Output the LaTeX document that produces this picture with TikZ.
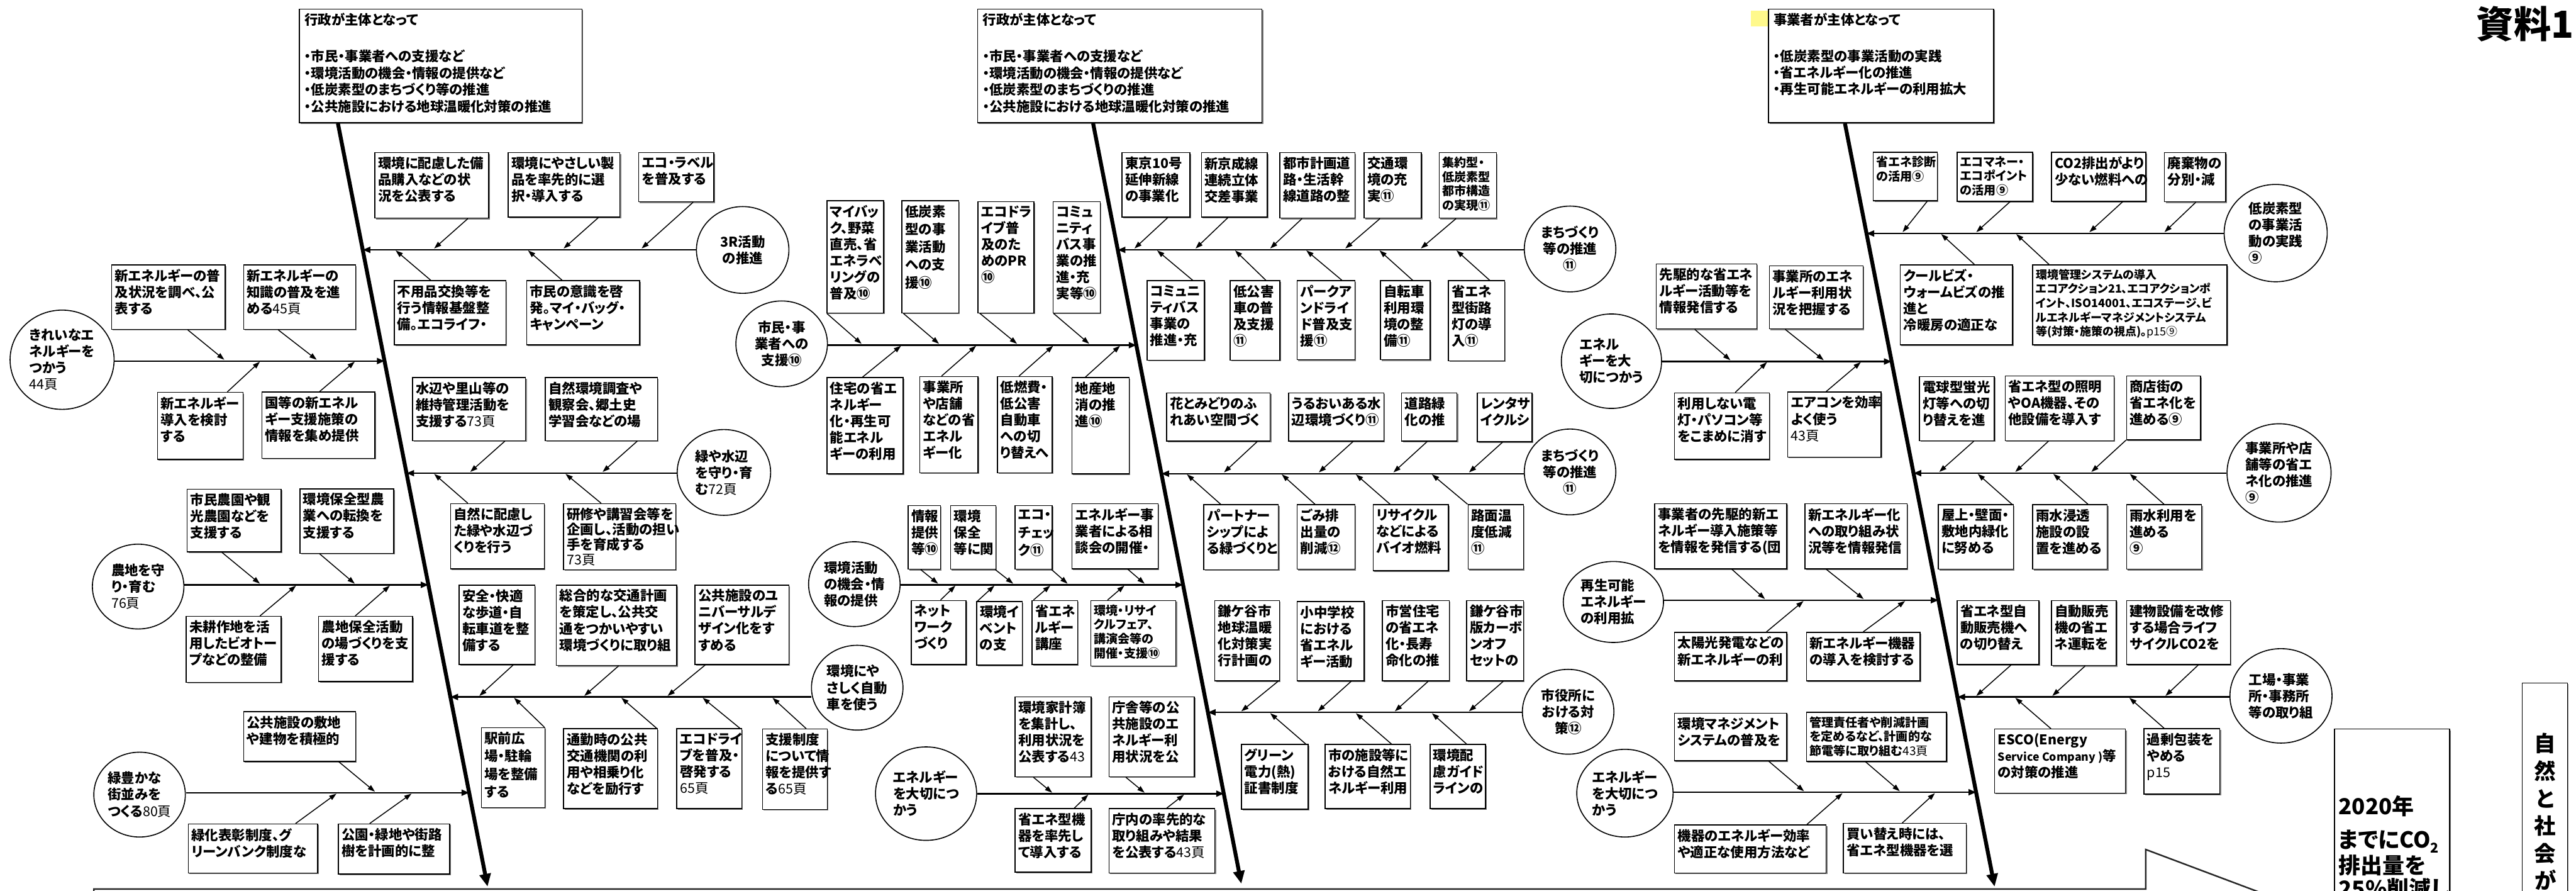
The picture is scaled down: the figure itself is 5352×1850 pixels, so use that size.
\documentclass[tikz,border=0pt]{standalone}
\usepackage{fontspec}
\setmainfont{Noto Sans CJK JP}[RawFeature=+palt]
\usetikzlibrary{arrows.meta,shapes.geometric,fit,calc,shadows}
\newcommand\FNorm{\fontsize{7.97pt}{9.67pt}\selectfont\bfseries}
\newcommand\FTight{\fontsize{7.97pt}{8.9pt}\selectfont\bfseries}
\newcommand\FLoose{\fontsize{7.97pt}{10.5pt}\selectfont\bfseries}
\newcommand\FSmall{\fontsize{7.1pt}{8.4pt}\selectfont\bfseries}
\newcommand\FTiny{\fontsize{6.7pt}{8.4pt}\selectfont\bfseries}
\newcommand\FHead{\fontsize{7.97pt}{9.87pt}\selectfont\bfseries}
\newcommand\Pg[1]{{\mdseries #1}}
\tikzset{
  boxsty/.style={draw, line width=0.55pt, inner sep=0pt, fill=white,
    drop shadow={shadow xshift=0.7pt, shadow yshift=-0.7pt, fill=black!50, opacity=1}},
  txt/.style={inner sep=0pt, align=left, font=\FNorm},
  ell/.style={draw, ellipse, line width=0.6pt, inner sep=0pt, font=\FNorm},
  arr/.style={line width=0.55pt, -{Triangle[length=4.3pt,width=2.9pt]}},
  branch/.style={line width=0.9pt, -{Triangle[length=4.5pt,width=3.6pt]}},
  bone/.style={line width=2.3pt, -{Triangle[length=7.5pt,width=6.5pt]}}
}
\newcommand\Bx[7][]{%
  \node[boxsty, fit={(#3,#4) (#5,#6)}] (#2) {};
  \node[txt, anchor=north west, #1] (#2t) at ([shift={(7,9)}]#2.north west) {#7};}
\newcommand\Dn[4]{\draw[arr] ([shift={(#2,0)}]#1.south west) -- (#3,#4);}
\newcommand\Up[4]{\draw[arr] ([shift={(#2,0)}]#1.north west) -- (#3,#4);}
\newcommand\El[7][left]{\node[ell, align=#1, minimum width=#5cm, minimum height=#6cm] (#2) at (#3,#4) {#7};}
\newcommand\BrL[4]{\coordinate (#1T) at ($(#2)!#4!(#3)$); \draw[branch] (#1.east |- #1T) -- (#1T);}
\newcommand\BrR[4]{\coordinate (#1T) at ($(#2)!#4!(#3)$); \draw[branch] (#1.west |- #1T) -- (#1T);}
\begin{document}
\begin{tikzpicture}[x=0.01cm, y=-0.01cm]
\useasboundingbox (0,0) rectangle (5352,1850);
\fill[white] (0,0) rectangle (5352,1850);
\clip (0,0) rectangle (5352,1850);

% ---------- header boxes ----------
\node[boxsty, fit={(622,19) (1209,255)}] (A1) {};
\node[txt, anchor=west] (A1h) at (632,41) {行政が主体となって};
\node[txt, anchor=north west, font=\FHead] (A1b) at (632,103) {・市民・事業者への支援など\\・環境活動の機会・情報の提供など\\・低炭素型のまちづくり等の推進\\・公共施設における地球温暖化対策の推進};
\node[boxsty, fit={(2031,19) (2622,255)}] (A2) {};
\node[txt, anchor=west] (A2h) at (2041,41) {行政が主体となって};
\node[txt, anchor=north west, font=\FHead] (A2b) at (2041,103) {・市民・事業者への支援など\\・環境活動の機会・情報の提供など\\・低炭素型のまちづくりの推進\\・公共施設における地球温暖化対策の推進};
\node[fill=yellow!45, inner sep=0pt, fit={(3637,22) (3674,55)}] (Y3) {};
\node[boxsty, fit={(3674,19) (4142,255)}] (A3) {};
\node[txt, anchor=west] (A3h) at (3684,41) {事業者が主体となって};
\node[txt, anchor=north west] (A3b) at (3684,103) {・低炭素型の事業活動の実践\\・省エネルギー化の推進\\・再生可能エネルギーの利用拡大};

\node[anchor=north east, inner sep=0pt, font=\fontsize{22pt}{22pt}\selectfont\bfseries] (Title) at (5348,12) {資料1};

% ---------- bones ----------
\coordinate (B1a) at ([shift={(81,0)}]A1.south west);
\coordinate (B1b) at (1013,1841);
\coordinate (B2a) at ([shift={(241,0)}]A2.south west);
\coordinate (B2b) at (2579,1835);
\coordinate (B3a) at ([shift={(160,0)}]A3.south west);
\coordinate (B3b) at (4144,1841);

% ---------- ellipses ----------
\El[center]{E1}{1543}{519}{1.92}{1.80}{3R活動\\の推進}
\El{E2}{129}{747}{2.16}{2.06}{きれいなエ\\ネルギーを\\つかう\\\Pg{44頁}}
\El{E3}{1504}{981}{1.94}{1.78}{緑や水辺\\を守り・育\\む\Pg{72頁}}
\El{E4}{287}{1218}{1.90}{1.76}{農地を守\\り・育む\\\Pg{76頁}}
\El{E5}{1781}{1428}{1.90}{1.76}{環境にや\\さしく自動\\車を使う}
\El{E6}{290}{1650}{1.90}{1.76}{緑豊かな\\街並みを\\つくる\Pg{80頁}}
\El[center]{E7}{1624}{714}{1.90}{1.78}{市民・事\\業者への\\支援⑩}
\El{E8}{1775}{1213}{1.90}{1.76}{環境活動\\の機会・情\\報の提供}
\El{E9}{1924}{1648}{2.10}{1.94}{エネルギー\\を大切につ\\かう}
\El[center]{E10}{3262}{517}{1.90}{1.78}{まちづくり\\等の推進\\⑪}
\El[center]{E11}{3262}{980}{1.90}{1.78}{まちづくり\\等の推進\\⑪}
\El[center]{E12}{3258}{1478}{1.90}{1.76}{市役所に\\おける対\\策⑫}
\El{E13}{4728}{484}{2.14}{2.02}{低炭素型\\の事業活\\動の実践\\⑨}
\El{E14}{3348}{750}{2.08}{1.96}{エネル\\ギーを大\\切につかう}
\El{E15}{4735}{982}{2.16}{2.04}{事業所や店\\舗等の省エ\\ネ化の推進\\⑨}
\El{E16}{3352}{1250}{2.08}{1.68}{再生可能\\エネルギー\\の利用拡}
\El{E17}{4739}{1445}{2.12}{1.96}{工場・事業\\所・事務所\\等の取り組}
\El{E18}{3376}{1647}{2.00}{1.82}{エネルギー\\を大切につ\\かう}

% ---------- group 1 boxes ----------
\Bx{b1}{779}{317}{1015}{453}{環境に配慮した備\\品購入などの状\\況を公表する}
\Bx{b2}{1056}{317}{1288}{451}{環境にやさしい製\\品を率先的に選\\択・導入する}
\Bx{b3}{1327}{317}{1483}{419}{エコ・ラベル\\を普及する}
\Bx{b4}{819}{583}{1051}{716}{不用品交換等を\\行う情報基盤整\\備。エコライフ・}
\Bx{b5}{1094}{583}{1329}{716}{市民の意識を啓\\発。マイ・バッグ・\\キャンペーン}
\Bx{b6}{232}{550}{468}{684}{新エネルギーの普\\及状況を調べ、公\\表する}
\Bx{b7}{506}{550}{739}{684}{新エネルギーの\\知識の普及を進\\める\Pg{45頁}}
\Bx{b8}{327}{815}{505}{954}{新エネルギー\\導入を検討\\する}
\Bx{b9}{544}{814}{779}{952}{国等の新エネル\\ギー支援施策の\\情報を集め提供}
\Bx{b10}{857}{784}{1092}{915}{水辺や里山等の\\維持管理活動を\\支援する\Pg{73頁}}
\Bx{b11}{1133}{784}{1366}{915}{自然環境調査や\\観察会、郷土史\\学習会などの場}
\Bx{b12}{936}{1046}{1131}{1181}{自然に配慮し\\た緑や水辺づ\\くりを行う}
\Bx[font=\FTight]{b13}{1171}{1046}{1404}{1183}{研修や講習会等を\\企画し、活動の担い\\手を育成する\\\Pg{73頁}}
\Bx{b14}{389}{1016}{584}{1146}{市民農園や観\\光農園などを\\支援する}
\Bx{b15}{623}{1015}{818}{1149}{環境保全型農\\業への転換を\\支援する}
\Bx{b16}{387}{1280}{584}{1417}{未耕作地を活\\用したビオトー\\プなどの整備}
\Bx{b17}{662}{1280}{857}{1415}{農地保全活動\\の場づくりを支\\援する}
\Bx{b18}{506}{1478}{739}{1581}{公共施設の敷地\\や建物を積極的}
\Bx{b19}{391}{1711}{660}{1813}{緑化表彰制度、グ\\リーンバンク制度な}
\Bx{b20}{703}{1711}{934}{1815}{公園・緑地や街路\\樹を計画的に整}
\Bx{b21}{954}{1215}{1111}{1380}{安全・快適\\な歩道・自\\転車道を整\\備する}
\Bx{b22}{1156}{1215}{1406}{1382}{総合的な交通計画\\を策定し、公共交\\通をつかいやすい\\環境づくりに取り組}
\Bx{b23}{1444}{1215}{1639}{1380}{公共施設のユ\\ニバーサルデ\\ザイン化をす\\すめる}
\Bx[font=\FLoose]{b24}{1000}{1511}{1132}{1677}{駅前広\\場・駐輪\\場を整備\\する}
\Bx{b25}{1171}{1513}{1366}{1679}{通勤時の公共\\交通機関の利\\用や相乗り化\\などを励行す}
\Bx{b26}{1406}{1513}{1541}{1679}{エコドライ\\ブを普及・\\啓発する\\\Pg{65頁}}
\Bx{b27}{1584}{1514}{1719}{1681}{支援制度\\について情\\報を提供す\\る\Pg{65頁}}

% ---------- group 2 boxes ----------
\Bx{c1}{1718}{417}{1836}{650}{マイバッ\\ク、野菜\\直売、省\\エネラベ\\リングの\\普及⑩}
\Bx[font=\FLoose]{c2}{1874}{417}{1992}{650}{低炭素\\型の事\\業活動\\への支\\援⑩}
\Bx{c3}{2032}{419}{2148}{650}{エコドラ\\イブ普\\及のた\\めのPR\\⑩}
\Bx{c4}{2188}{419}{2286}{650}{コミュ\\ニティ\\バス事\\業の推\\進・充\\実等⑩}
\Bx{c5}{1718}{784}{1876}{984}{住宅の省エ\\ネルギー\\化・再生可\\能エネル\\ギーの利用}
\Bx{c6}{1911}{782}{2032}{982}{事業所\\や店舗\\などの省\\エネル\\ギー化}
\Bx{c7}{2072}{782}{2186}{982}{低燃費・\\低公害\\自動車\\への切\\り替えへ}
\Bx{c8}{2227}{784}{2346}{984}{地産地\\消の推\\進⑩}
\Bx{c9}{1887}{1050}{1954}{1182}{情報\\提供\\等⑩}
\Bx{c10}{1975}{1050}{2069}{1182}{環境\\保全\\等に関}
\Bx[font=\FLoose]{c11}{2109}{1050}{2186}{1182}{エコ・\\チェッ\\ク⑪}
\Bx{c12}{2227}{1046}{2406}{1181}{エネルギー事\\業者による相\\談会の開催・}
\Bx{c13}{1893}{1247}{2007}{1380}{ネット\\ワーク\\づくり}
\Bx{c14}{2029}{1249}{2124}{1381}{環境イ\\ベント\\の支}
\Bx{c15}{2144}{1247}{2239}{1380}{省エネ\\ルギー\\講座}
\Bx[font=\FSmall]{c16}{2266}{1247}{2443}{1383}{環境・リサイ\\クルフェア、\\講演会等の\\開催・支援⑩}
\Bx{c17}{2109}{1447}{2267}{1613}{環境家計簿\\を集計し、\\利用状況を\\公表する\Pg{43}}
\Bx{c18}{2304}{1447}{2481}{1613}{庁舎等の公\\共施設のエ\\ネルギー利\\用状況を公}
\Bx{c19}{2109}{1679}{2267}{1811}{省エネ型機\\器を率先し\\て導入する}
\Bx{c20}{2304}{1679}{2524}{1813}{庁内の率先的な\\取り組みや結果\\を公表する\Pg{43頁}}
\Bx{c21}{2524}{1247}{2658}{1414}{鎌ケ谷市\\地球温暖\\化対策実\\行計画の}
\Bx{c22}{2695}{1249}{2834}{1414}{小中学校\\における\\省エネル\\ギー活動}
\Bx{c23}{2872}{1247}{3011}{1414}{市営住宅\\の省エネ\\化・長寿\\命化の推}
\Bx{c24}{3047}{1247}{3165}{1414}{鎌ケ谷市\\版カーボ\\ンオフ\\セットの}
\Bx{c25}{2579}{1546}{2718}{1680}{グリーン\\電力(熱)\\証書制度}
\Bx{c26}{2753}{1546}{2930}{1679}{市の施設等に\\おける自然エ\\ネルギー利用}
\Bx{c27}{2971}{1546}{3086}{1679}{環境配\\慮ガイド\\ラインの}
\Bx{c28}{2331}{317}{2472}{451}{東京10号\\延伸新線\\の事業化}
\Bx{c29}{2496}{317}{2633}{451}{新京成線\\連続立体\\交差事業}
\Bx{c30}{2659}{317}{2815}{453}{都市計画道\\路・生活幹\\線道路の整}
\Bx{c31}{2834}{317}{2953}{453}{交通環\\境の充\\実⑪}
\Bx[font=\FSmall]{c32}{2990}{317}{3109}{453}{集約型・\\低炭素型\\都市構造\\の実現⑪}
\Bx{c33}{2383}{583}{2502}{748}{コミュニ\\ティバス\\事業の\\推進・充}
\Bx{c34}{2556}{583}{2659}{748}{低公害\\車の普\\及支援\\⑪}
\Bx{c35}{2695}{583}{2815}{747}{パークア\\ンドライ\\ド普及支\\援⑪}
\Bx{c36}{2868}{583}{2971}{747}{自転車\\利用環\\境の整\\備⑪}
\Bx{c37}{3009}{583}{3126}{749}{省エネ\\型街路\\灯の導\\入⑪}
\Bx{c38}{2424}{816}{2639}{916}{花とみどりのふ\\れあい空間づく}
\Bx{c39}{2677}{816}{2875}{916}{うるおいある水\\辺環境づくり⑪}
\Bx{c40}{2912}{816}{3027}{916}{道路緑\\化の推}
\Bx{c41}{3069}{816}{3183}{917}{レンタサ\\イクルシ}
\Bx{c42}{2501}{1048}{2656}{1183}{パートナー\\シップによ\\る緑づくりと}
\Bx{c43}{2695}{1048}{2815}{1182}{ごみ排\\出量の\\削減⑫}
\Bx{c44}{2853}{1048}{3009}{1185}{リサイクル\\などによる\\バイオ燃料}
\Bx{c45}{3050}{1048}{3165}{1182}{路面温\\度低減\\⑪}

% ---------- group 3 boxes ----------
\Bx[font=\FSmall]{d1}{3892}{316}{4025}{417}{省エネ診断\\の活用⑨}
\Bx[font=\FSmall]{d2}{4066}{316}{4223}{418}{エコマネー・\\エコポイント\\の活用⑨}
\Bx{d3}{4262}{316}{4458}{418}{CO2排出がより\\少ない燃料への}
\Bx{d4}{4497}{317}{4624}{419}{廃棄物の\\分別・減}
\Bx{d5}{3948}{550}{4181}{716}{クールビズ・\\ウォームビズの推\\進と\\冷暖房の適正な}
\Bx[font=\FTiny]{d6}{4223}{550}{4627}{716}{環境管理システムの導入\\エコアクション21、エコアクションポ\\イント、ISO14001、エコステージ、ビ\\ルエネルギーマネジメントシステム\\等(対策・施策の視点)。\Pg{p15⑨}}
\Bx{d7}{3441}{548}{3650}{683}{先駆的な省エネ\\ルギー活動等を\\情報発信する}
\Bx{d8}{3676}{552}{3871}{683}{事業所のエネ\\ルギー利用状\\況を把握する}
\Bx{d9}{3479}{816}{3676}{954}{利用しない電\\灯・パソコン等\\をこまめに消す}
\Bx{d10}{3714}{814}{3908}{949}{エアコンを効率\\よく使う\\\Pg{43頁}}
\Bx{d11}{3988}{782}{4143}{915}{電球型蛍光\\灯等への切\\り替えを進}
\Bx{d12}{4166}{781}{4392}{915}{省エネ型の照明\\やOA機器、その\\他設備を導入す}
\Bx{d13}{4418}{781}{4572}{913}{商店街の\\省エネ化を\\進める⑨}
\Bx{d14}{4027}{1048}{4183}{1182}{屋上・壁面・\\敷地内緑化\\に努める}
\Bx{d15}{4223}{1048}{4378}{1182}{雨水浸透\\施設の設\\置を進める}
\Bx{d16}{4418}{1048}{4574}{1182}{雨水利用を\\進める\\⑨}
\Bx{d17}{3438}{1046}{3712}{1181}{事業者の先駆的新エ\\ネルギー導入施策等\\を情報を発信する(団}
\Bx{d18}{3750}{1046}{3962}{1181}{新エネルギー化\\への取り組み状\\況等を情報発信}
\Bx{d19}{3479}{1313}{3712}{1414}{太陽光発電などの\\新エネルギーの利}
\Bx{d20}{3753}{1313}{3989}{1414}{新エネルギー機器\\の導入を検討する}
\Bx{d21}{4066}{1247}{4236}{1380}{省エネ型自\\動販売機へ\\の切り替え}
\Bx{d22}{4262}{1247}{4397}{1382}{自動販売\\機の省エ\\ネ運転を}
\Bx{d23}{4418}{1247}{4634}{1380}{建物設備を改修\\する場合ライフ\\サイクルCO2を}
\Bx{d24}{4144}{1514}{4416}{1647}{ESCO(Energy\\{\fontsize{6.6pt}{9.67pt}\selectfont Service Company )}等\\の対策の推進}
\Bx{d25}{4454}{1513}{4612}{1649}{過剰包装を\\やめる\\\Pg{p15}}
\Bx{d26}{3479}{1481}{3712}{1580}{環境マネジメント\\システムの普及を}
\Bx[font=\FSmall]{d27}{3753}{1479}{4044}{1581}{管理責任者や削減計画\\を定めるなど、計画的な\\節電等に取り組む\Pg{43頁}}
\Bx{d28}{3479}{1713}{3794}{1813}{機器のエネルギー効率\\や適正な使用方法など}
\Bx{d29}{3830}{1710}{4085}{1813}{買い替え時には、\\省エネ型機器を選}

% ---------- right side boxes ----------
\node[boxsty, fit={(4850,1514) (5089,1900)}] (G1) {};
\node[txt, anchor=north west, font=\fontsize{13pt}{14pt}\selectfont\bfseries] (G1t) at (4858,1652) {2020年\\[5.5pt]までにCO\raisebox{-3pt}{\fontsize{8pt}{8pt}\selectfont 2}\\排出量を\\25\%削減し};
\node[boxsty, fit={(5240,1418) (5334,1900)}] (G2) {};
\node[inner sep=0pt, align=center, anchor=north, font=\fontsize{12.8pt}{16.2pt}\selectfont\bfseries] (G2t) at (5288,1522) {自\\然\\と\\社\\会\\が};

% block arrow outline at the bottom
\draw[line width=0.9pt, black!85] (195,1900) -- (195,1846) -- (4458,1846) -- (4458,1764) -- (4791,1889);

% ---------- bones and branches ----------
\draw[bone] (B1a) -- (B1b);
\draw[bone] (B2a) -- (B2b);
\draw[bone] (B3a) -- (B3b);

\BrR{E1}{B1a}{B1b}{0.1658}
\BrL{E2}{B1a}{B1b}{0.3115}
\BrR{E3}{B1a}{B1b}{0.4584}
\BrL{E4}{B1a}{B1b}{0.6047}
\BrR{E5}{B1a}{B1b}{0.7516}
\BrL{E6}{B1a}{B1b}{0.8770}
\BrL{E7}{B2a}{B2b}{0.2918}
\BrL{E8}{B2a}{B2b}{0.6070}
\BrL{E9}{B2a}{B2b}{0.8816}
\BrR{E10}{B2a}{B2b}{0.1665}
\BrR{E11}{B2a}{B2b}{0.4608}
\BrR{E12}{B2a}{B2b}{0.7747}
\BrR{E13}{B3a}{B3b}{0.1444}
\BrL{E14}{B3a}{B3b}{0.3121}
\BrR{E15}{B3a}{B3b}{0.4584}
\BrL{E16}{B3a}{B3b}{0.6248}
\BrR{E17}{B3a}{B3b}{0.7516}
\BrL{E18}{B3a}{B3b}{0.8764}

% ---------- small arrows ----------
\Dn{b1}{194}{902}{516}
\Dn{b2}{188}{1171}{516}
\Dn{b3}{114}{1333}{516}
\Up{b4}{77}{822}{520}
\Up{b5}{75}{1097}{520}
\Dn{b6}{159}{466}{747}
\Dn{b7}{73}{658}{747}
\Up{b8}{146}{540}{751}
\Up{b9}{121}{737}{751}
\Dn{b10}{193}{977}{980}
\Dn{b11}{192}{1252}{980}
\Up{b12}{37}{902}{984}
\Up{b13}{79}{1175}{984}
\Dn{b14}{73}{540}{1212}
\Dn{b15}{42}{737}{1212}
\Up{b16}{154}{615}{1216}
\Up{b17}{77}{810}{1216}
\Dn{b18}{199}{779}{1644}
\Up{b19}{224}{699}{1648}
\Up{b20}{66}{855}{1648}
\Dn{b21}{113}{996}{1445}
\Dn{b22}{130}{1214}{1445}
\Dn{b23}{22}{1387}{1445}
\Up{b24}{132}{1068}{1449}
\Up{b25}{194}{1291}{1449}
\Up{b26}{132}{1460}{1449}
\Up{b27}{92}{1605}{1449}

\Dn{c1}{1}{1790}{714}
\Dn{c2}{4}{1951}{714}
\Dn{c3}{5}{2113}{714}
\Dn{c4}{2}{2263}{714}
\Up{c5}{75}{1872}{718}
\Up{c6}{46}{2028}{718}
\Up{c7}{46}{2188}{718}
\Up{c8}{29}{2327}{718}
\Dn{c9}{27}{1949}{1212}
\Dn{c10}{94}{2105}{1212}
\Dn{c11}{77}{2218}{1212}
\Dn{c12}{117}{2378}{1212}
\Up{c13}{62}{1985}{1216}
\Up{c14}{3}{2066}{1216}
\Up{c15}{4}{2182}{1216}
\Up{c16}{36}{2336}{1216}
\Dn{c17}{39}{2186}{1646}
\Dn{c18}{36}{2378}{1646}
\Up{c19}{124}{2261}{1650}
\Up{c20}{121}{2460}{1650}
\Dn{c21}{132}{2579}{1477}
\Dn{c22}{113}{2738}{1477}
\Dn{c23}{96}{2898}{1477}
\Dn{c24}{77}{3052}{1477}
\Up{c25}{135}{2639}{1481}
\Up{c26}{139}{2817}{1481}
\Up{c27}{77}{2975}{1481}
\Dn{c28}{96}{2357}{516}
\Dn{c29}{56}{2484}{516}
\Dn{c30}{47}{2639}{516}
\Dn{c31}{34}{2795}{516}
\Dn{c32}{36}{2952}{516}
\Up{c33}{96}{2404}{520}
\Up{c34}{75}{2566}{520}
\Up{c35}{94}{2714}{520}
\Up{c36}{68}{2866}{520}
\Up{c37}{87}{3026}{520}
\Dn{c38}{189}{2543}{981}
\Dn{c39}{135}{2740}{981}
\Dn{c40}{54}{2895}{981}
\Dn{c41}{54}{3052}{981}
\Up{c42}{36}{2466}{985}
\Up{c43}{38}{2663}{985}
\Up{c44}{36}{2817}{985}
\Up{c45}{0}{2975}{985}

\Dn{d1}{113}{3953}{482}
\Dn{d2}{111}{4106}{482}
\Dn{d3}{149}{4341}{482}
\Dn{d4}{66}{4497}{482}
\Up{d5}{155}{4033}{486}
\Up{d6}{35}{4189}{486}
\Dn{d7}{81}{3595}{748}
\Dn{d8}{34}{3789}{748}
\Up{d9}{127}{3671}{752}
\Up{d10}{81}{3866}{752}
\Dn{d11}{114}{4029}{980}
\Dn{d12}{91}{4187}{980}
\Dn{d13}{0}{4345}{980}
\Up{d14}{154}{4109}{984}
\Up{d15}{116}{4266}{984}
\Up{d16}{79}{4425}{984}
\Dn{d17}{161}{3667}{1244}
\Dn{d18}{45}{3872}{1244}
\Up{d19}{192}{3747}{1248}
\Up{d20}{119}{3958}{1248}
\Dn{d21}{113}{4106}{1445}
\Dn{d22}{71}{4264}{1445}
\Dn{d23}{150}{4499}{1445}
\Up{d24}{118}{4187}{1449}
\Up{d25}{43}{4424}{1449}
\Dn{d26}{197}{3748}{1643}
\Dn{d27}{124}{3947}{1643}
\Up{d28}{276}{3828}{1647}
\Up{d29}{123}{4020}{1647}
\end{tikzpicture}
\end{document}
